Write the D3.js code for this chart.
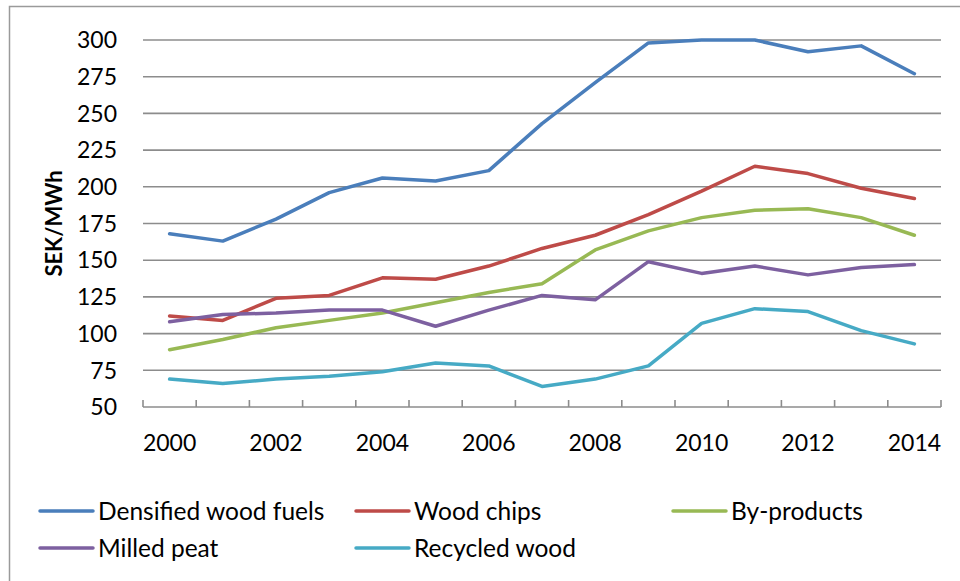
<!DOCTYPE html>
<html>
<head>
<meta charset="utf-8">
<script src="https://cdn.jsdelivr.net/npm/d3@7/dist/d3.min.js"></script>
<style>
  html, body { margin: 0; padding: 0; background: #fff; }
  svg { display: block; font-family: Lato, "Open Sans", sans-serif; }
</style>
</head>
<body>
<svg id="chart" width="960" height="581"></svg>
<script>
// Fuel prices, SEK/MWh, 2000–2014
const years = d3.range(2000, 2015);
const seriesNames = ["Densified wood fuels", "Wood chips", "By-products", "Milled peat", "Recycled wood"];
const densifiedWoodFuels = [168, 163, 178, 196, 206, 204, 211, 243, 271, 298, 300, 300, 292, 296, 277];
const woodChips          = [112, 109, 124, 126, 138, 137, 146, 158, 167, 181, 197, 214, 209, 199, 192];
const byProducts         = [89, 96, 104, 109, 114, 121, 128, 134, 157, 170, 179, 184, 185, 179, 167];
const milledPeat         = [108, 113, 114, 116, 116, 105, 116, 126, 123, 149, 141, 146, 140, 145, 147];
const recycledWood       = [69, 66, 69, 71, 74, 80, 78, 64, 69, 78, 107, 117, 115, 102, 93];
const yTicks = [50, 75, 100, 125, 150, 175, 200, 225, 250, 275, 300];
const xTickLabels = [2000, 2002, 2004, 2006, 2008, 2010, 2012, 2014];
const colors = ["#4a7ebb", "#be4b48", "#98b954", "#7d60a0", "#46aac5"];

const seriesValues = [densifiedWoodFuels, woodChips, byProducts, milledPeat, recycledWood];

const svg = d3.select("#chart");
const plot = { left: 143, right: 941, top: 40, bottom: 407 };

// Chart frame
svg.append("path")
  .attr("d", "M9.5,581 L9.5,6.5 L960,6.5")
  .attr("fill", "none")
  .attr("stroke", "#9a9a9a")
  .attr("stroke-width", 1.5);

const x = d3.scaleBand().domain(years).range([plot.left, plot.right]).padding(0);
const xc = yr => x(yr) + x.bandwidth() / 2;
const y = d3.scaleLinear().domain([50, 300]).range([plot.bottom, plot.top]);

// Horizontal gridlines
svg.append("g").selectAll("line")
  .data(yTicks.filter(v => v > 50))
  .join("line")
  .attr("x1", plot.left).attr("x2", plot.right)
  .attr("y1", d => y(d)).attr("y2", d => y(d))
  .attr("stroke", "#8c8c8c")
  .attr("stroke-width", 1.6);

// Category axis line with tick marks between categories
const xAxis = svg.append("g");
xAxis.append("line")
  .attr("x1", plot.left).attr("x2", plot.right)
  .attr("y1", plot.bottom).attr("y2", plot.bottom)
  .attr("stroke", "#8c8c8c").attr("stroke-width", 1.6);
const tickPositions = years.map(yr => x(yr)).concat([x(years[years.length - 1]) + x.bandwidth()]);
xAxis.selectAll("line.tick")
  .data(tickPositions)
  .join("line")
  .attr("class", "tick")
  .attr("x1", d => d).attr("x2", d => d)
  .attr("y1", plot.bottom - 7).attr("y2", plot.bottom)
  .attr("stroke", "#8c8c8c").attr("stroke-width", 1.6);
xAxis.selectAll("text")
  .data(xTickLabels)
  .join("text")
  .attr("x", d => xc(d))
  .attr("y", 451)
  .attr("text-anchor", "middle")
  .attr("font-size", 23)
  .attr("fill", "#000")
  .text(d => d);

// Value axis labels
svg.append("g").selectAll("text")
  .data(yTicks)
  .join("text")
  .attr("x", 117)
  .attr("y", d => y(d))
  .attr("dy", "0.36em")
  .attr("text-anchor", "end")
  .attr("font-size", 23)
  .attr("fill", "#000")
  .text(d => d);

// Axis title
svg.append("text")
  .attr("transform", `translate(62,${(plot.top + plot.bottom) / 2}) rotate(-90)`)
  .attr("text-anchor", "middle")
  .attr("font-size", 22)
  .attr("font-weight", "bold")
  .attr("fill", "#000")
  .text("SEK/MWh");

// Series lines
const line = d3.line()
  .x((d, i) => xc(years[i]))
  .y(d => y(d));
svg.append("g").selectAll("path")
  .data(seriesValues)
  .join("path")
  .attr("d", d => line(d))
  .attr("fill", "none")
  .attr("stroke", (d, i) => colors[i])
  .attr("stroke-width", 3.5)
  .attr("stroke-linejoin", "round")
  .attr("stroke-linecap", "round");

// Legend
const legendPos = [
  { x: 40, y: 511 }, { x: 356, y: 511 }, { x: 673, y: 511 },
  { x: 40, y: 548 }, { x: 356, y: 548 }
];
const legend = svg.append("g").selectAll("g")
  .data(seriesNames)
  .join("g")
  .attr("transform", (d, i) => `translate(${legendPos[i].x},${legendPos[i].y})`);
legend.append("line")
  .attr("x1", 0).attr("x2", 53)
  .attr("y1", 0).attr("y2", 0)
  .attr("stroke", (d, i) => colors[i])
  .attr("stroke-width", 3.5)
  .attr("stroke-linecap", "round");
legend.append("text")
  .attr("x", 58)
  .attr("dy", "0.36em")
  .attr("font-size", 24.5)
  .attr("fill", "#000")
  .text(d => d);
</script>
</body>
</html>
